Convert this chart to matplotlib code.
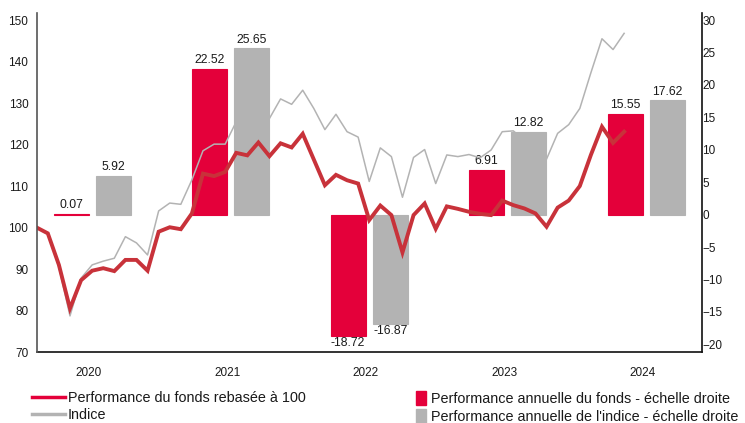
import matplotlib.pyplot as plt
import numpy as np
from matplotlib.lines import Line2D
from matplotlib.patches import Patch

plt.rcParams['font.family'] = ['Liberation Sans', 'DejaVu Sans']

# monthly values, Dec 2019 -> May 2024, rebased to 100
fund = [100.0, 98.6, 91.0, 80.5, 87.3, 89.6, 90.2, 89.5, 92.2, 92.2, 89.6, 99.0,
        100.07, 99.6, 103.4, 113.0, 112.4, 113.4, 118.0, 117.4, 120.5, 117.2, 120.3, 119.3,
        122.6, 116.4, 110.2, 112.7, 111.4, 110.6, 101.8, 105.3, 103.0, 94.0, 103.0, 105.8,
        99.7, 105.1, 104.5, 103.8, 103.3, 103.0, 106.5, 105.4, 104.6, 103.4, 100.2, 104.8,
        106.5, 110.0, 117.5, 124.3, 120.4, 123.1]
index = [100.0, 98.7, 90.5, 78.7, 87.8, 91.0, 91.9, 92.6, 97.8, 96.3, 93.4, 104.0,
         105.9, 105.6, 111.5, 118.5, 120.1, 120.1, 125.5, 129.5, 128.0, 126.3, 131.0, 129.7,
         133.1, 128.7, 123.6, 127.3, 123.1, 121.8, 111.1, 119.2, 117.1, 107.3, 116.9, 118.8,
         110.6, 117.5, 117.1, 117.6, 116.8, 118.7, 123.1, 123.3, 121.0, 119.5, 116.5, 122.7,
         124.8, 128.7, 137.3, 145.5, 142.9, 146.8]

years = ['2020', '2021', '2022', '2023', '2024']
fund_perf = [0.07, 22.52, -18.72, 6.91, 15.55]
index_perf = [5.92, 25.65, -16.87, 12.82, 17.62]

RED_BAR = '#E4003A'
RED_LINE = '#C8323A'
GREY = '#B3B3B3'
TXT = '#1a1a1a'

fig = plt.figure(figsize=(7.45, 4.23), dpi=100)
rect = [0.0493, 0.1678, 0.8926, 0.8014]

# bars, right axis
axb = fig.add_axes(rect)
pos = np.arange(len(years))
w = 0.253
off = 0.152
b1 = axb.bar(pos - off, fund_perf, w, color=RED_BAR, edgecolor=RED_BAR, linewidth=0.8)
b2 = axb.bar(pos + off, index_perf, w, color=GREY, edgecolor=GREY, linewidth=0.8)
for bars, vals in ((b1, fund_perf), (b2, index_perf)):
    for r, v in zip(bars, vals):
        x = r.get_x() + r.get_width() / 2
        if v >= 0:
            axb.annotate(f'{v:.2f}', (x, v), xytext=(0, 2), textcoords='offset points',
                         ha='center', va='bottom', fontsize=8.7, color=TXT)
        else:
            axb.annotate(f'{v:.2f}', (x, v), xytext=(0, -1), textcoords='offset points',
                         ha='center', va='top', fontsize=8.7, color=TXT)
axb.set_xlim(-0.401, 4.401)
axb.set_ylim(-21.2, 31.1)
axb.set_yticks(np.arange(-20, 31, 5))
axb.yaxis.tick_right()
axb.tick_params(axis='y', length=0, pad=0.5, labelsize=8.5, labelcolor=TXT)
axb.set_xticks(pos - 0.025)
axb.set_xticklabels(years)
axb.tick_params(axis='x', length=0, pad=11, labelsize=8.5, labelcolor=TXT)
for s in ('left', 'top'):
    axb.spines[s].set_visible(False)
axb.spines['right'].set_color('#111111')
axb.spines['bottom'].set_color('#111111')
axb.spines['right'].set_linewidth(1.2)
axb.spines['bottom'].set_linewidth(1.2)

# lines, left axis
axl = fig.add_axes(rect)
axl.patch.set_visible(False)
m = np.arange(len(fund))
axl.plot(m, index, color=GREY, lw=1.1)
axl.plot(m, fund, color=RED_LINE, lw=2.8, solid_joinstyle='miter')
axl.set_xlim(0, 60)
axl.set_ylim(70, 151.7)
axl.set_yticks(np.arange(70, 151, 10))
axl.set_xticks([])
axl.tick_params(axis='y', length=0, pad=6, labelsize=8.5, labelcolor=TXT)
for s in ('right', 'top', 'bottom'):
    axl.spines[s].set_visible(False)
axl.spines['left'].set_color('#555555')
axl.spines['left'].set_linewidth(1.2)

h1 = [Line2D([], [], color=RED_BAR, lw=2.5), Line2D([], [], color=GREY, lw=2.5)]
fig.legend(h1, ['Performance du fonds rebasée à 100', 'Indice'],
           loc='upper left', bbox_to_anchor=(32 / 745, 0.076), frameon=False,
           fontsize=10.4, handlelength=2.3, handletextpad=0.2, labelspacing=0.22,
           borderpad=0, borderaxespad=0, labelcolor=TXT)
h2 = [Patch(color=RED_BAR), Patch(color=GREY)]
fig.legend(h2, ['Performance annuelle du fonds - échelle droite',
                "Performance annuelle de l'indice - échelle droite"],
           loc='upper left', bbox_to_anchor=(416 / 745, 0.076), frameon=False,
           fontsize=10.4, handlelength=0.7, handleheight=1.1, handletextpad=0.35,
           labelspacing=0.22, borderpad=0, borderaxespad=0, labelcolor=TXT)

fig.savefig('out.png', dpi=100)
